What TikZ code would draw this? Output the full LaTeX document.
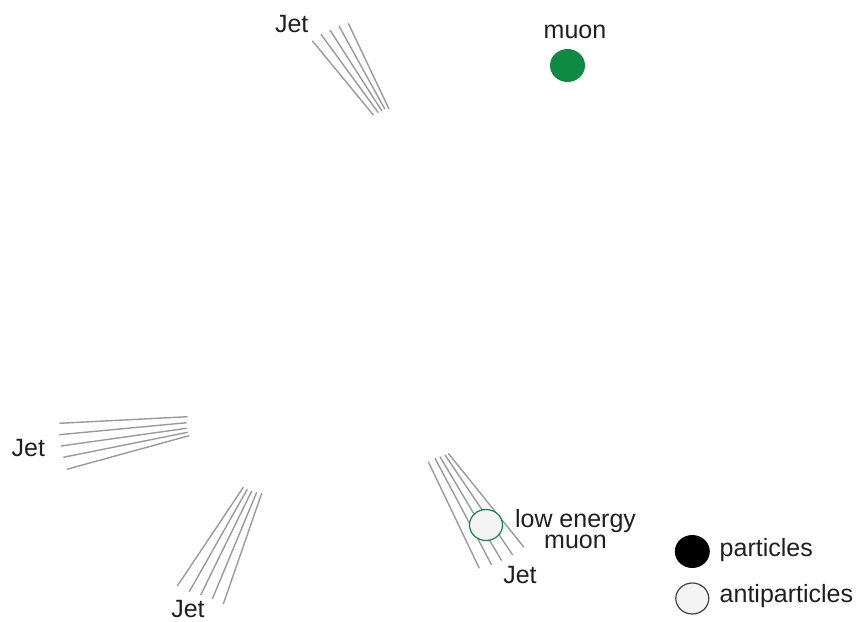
\documentclass[tikz,border=0pt]{standalone}
\usepackage{fontspec}
\setmainfont{Liberation Sans}
\usetikzlibrary{shapes.geometric}
\definecolor{muongreen}{HTML}{0E8A43}
\definecolor{trackgray}{HTML}{9A9A9A}
\definecolor{antifill}{HTML}{F4F4F4}
\begin{document}
\begin{tikzpicture}[x=1pt,y=-1pt,
  jetline/.style={draw=trackgray,line width=1.4pt},
  lbl/.style={font=\fontsize{25}{21}\selectfont,text=black!88,inner sep=0pt},
  muonball/.style={ellipse,fill=muongreen,minimum width=35pt,minimum height=33pt,inner sep=0pt},
  antiball/.style={ellipse,draw=muongreen,line width=1.2pt,fill=antifill,minimum width=33pt,minimum height=31pt,inner sep=0pt},
  legfull/.style={ellipse,fill=black,minimum width=35pt,minimum height=33pt,inner sep=0pt},
  legempty/.style={ellipse,draw=black!75,line width=1.2pt,fill=antifill,minimum width=33pt,minimum height=31pt,inner sep=0pt}]
\useasboundingbox (0,0) rectangle (859,621);

% upper jet
\foreach \ax/\ay/\bx/\by in {312.3/40.7/373.3/115, 321/34.3/378.3/112.7, 330/30/381.7/110.7, 339/26/385/109.3, 348.3/23.3/389/109}
  \draw[jetline] (\ax,\ay) -- (\bx,\by);
\node[lbl] (jetA) at (291.7,24.5) {Jet};

% isolated muon
\node[muonball] (muon) at (567.5,65.5) {};
\node[lbl] (muonlbl) at (575,31.5) {muon};

% left jet
\foreach \ax/\ay/\bx/\by in {59.3/423.3/187.7/416.7, 59.3/434.7/186.7/422.7, 61/446/186.7/428.3, 63.3/457.3/187.7/432.3, 66.7/469.3/189/435.7}
  \draw[jetline] (\ax,\ay) -- (\bx,\by);
\node[lbl] (jetB) at (28.3,448.5) {Jet};

% lower left jet
\foreach \ax/\ay/\bx/\by in {243.3/487.3/177.3/586, 247.3/489.3/189.3/591.7, 251.7/491/200.7/595, 256.7/492.3/212.3/599, 261.7/493.3/223.3/604}
  \draw[jetline] (\ax,\ay) -- (\bx,\by);
\node[lbl] (jetC) at (188,609.5) {Jet};

% lower right jet with soft muon
\foreach \ax/\ay/\bx/\by in {428.3/461.7/479.3/568.3, 435/458.3/491.7/565, 440/456.7/501.7/560.7, 445/455/512.7/555, 448.3/453.3/524/547.3}
  \draw[jetline] (\ax,\ay) -- (\bx,\by);
\node[antiball] (softmuon) at (486,525) {};
\node[lbl,align=center] (softlbl) at (575.5,529.5) {low energy\\muon};
\node[lbl] (jetD) at (520,575.5) {Jet};

% legend
\node[legfull] (legP) at (692.3,551.5) {};
\node[legempty] (legA) at (692.3,598.5) {};
\node[lbl,anchor=west] (legPl) at (719.5,550.5) {particles};
\node[lbl,anchor=west] (legAl) at (719.5,596.5) {antiparticles};
\end{tikzpicture}
\end{document}
